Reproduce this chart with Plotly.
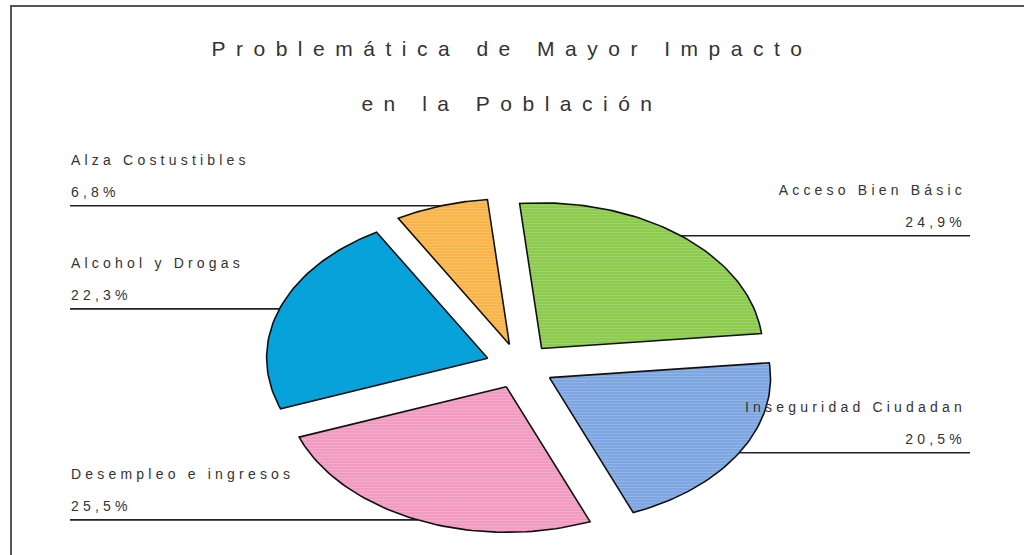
import numpy as np
import plotly.graph_objects as go

# datos
labels = ["Acceso Bien Básic", "Inseguridad Ciudadan", "Desempleo e ingresos",
          "Alcohol y Drogas", "Alza Costustibles"]
values = [24.9, 20.5, 25.5, 22.3, 6.8]
colors = ["#8DCB4F", "#7EA6E0", "#F29BC1", "#08A2DA", "#F9B54A"]
textured = [True, True, True, False, True]

text_color = "#333333"
font_family = "Liberation Sans, Arial, sans-serif"

# geometria del pastel inclinado (en pixeles de pantalla)
cx, cy = 520, 366
vec_a = np.array([220.0, -14.0])    # direccion de las 3 en punto
vec_b = np.array([-22.0, -145.0])   # direccion de las 12 en punto
explode = 0.155
left_x, right_x = 70, 970


def edge(theta):
    return np.sin(theta) * vec_a + np.cos(theta) * vec_b


fig = go.Figure()

total = sum(values)
start = 0.0
slices = []
leaders = []
for lab, val, col, tex in zip(labels, values, colors, textured):
    t0 = start / total * 2 * np.pi
    t1 = (start + val) / total * 2 * np.pi
    tm = (t0 + t1) / 2
    start += val
    tip = np.array([cx, cy]) + explode * edge(tm)
    ts = np.linspace(t0, t1, 60)
    pts = [tip] + [tip + edge(t) for t in ts] + [tip]
    xs = [p[0] for p in pts]
    ys = [p[1] for p in pts]
    slices.append((xs, ys, col, tex))
    mid = tip + edge(tm)
    side = "right" if mid[0] > cx else "left"
    leaders.append((lab, val, mid, side))

# lineas guia (debajo de las porciones)
for lab, val, mid, side in leaders:
    x_end = right_x if side == "right" else left_x
    fig.add_trace(go.Scatter(x=[mid[0], x_end], y=[mid[1], mid[1]], mode="lines",
                             line=dict(color="#222222", width=1.6),
                             hoverinfo="skip", showlegend=False))

# porciones
for xs, ys, col, tex in slices:
    pattern = dict(shape="-", bgcolor=col, fgcolor="white", fgopacity=0.25,
                   size=3, solidity=0.2) if tex else None
    fig.add_trace(go.Scatter(x=xs, y=ys, mode="lines", fill="toself",
                             fillcolor=col, fillpattern=pattern,
                             line=dict(color="#111111", width=1.6),
                             hoverinfo="skip", showlegend=False))

# etiquetas
for lab, val, mid, side in leaders:
    pct = f"{val:.1f}".replace(".", ",") + "%"
    if side == "right":
        tx, pos = right_x - 4, "middle left"
    else:
        tx, pos = left_x + 1, "middle right"
    fig.add_trace(go.Scatter(x=[tx, tx], y=[mid[1] - 44, mid[1] - 12], mode="text",
                             text=[lab, pct], textposition=pos,
                             textfont=dict(size=14, color=text_color, family=font_family),
                             hoverinfo="skip", showlegend=False))

fig.update_layout(
    width=1024,
    height=555,
    margin=dict(l=0, r=0, t=0, b=0),
    plot_bgcolor="white",
    paper_bgcolor="white",
    font=dict(family=font_family, color=text_color),
    title=dict(text="Problemática de Mayor Impacto<br><br>en la Población",
               x=0.5, xanchor="center", yref="container", y=1 - 56 / 555,
               yanchor="top", font=dict(size=21, color=text_color)),
    xaxis=dict(range=[0, 1024], visible=False, fixedrange=True),
    yaxis=dict(range=[555, 0], visible=False, fixedrange=True),
    shapes=[dict(type="rect", xref="x", yref="y", x0=11, y0=6, x1=1040, y1=570,
                 line=dict(color="#555555", width=2), layer="below")],
)

post = """
document.body.style.margin = '0';
var st = document.createElement('style');
st.textContent = '.gtitle{letter-spacing:10.5px} .textpoint text{letter-spacing:4.2px}';
document.head.appendChild(st);
"""

fig.write_html("out.html", post_script=post, config={"displayModeBar": False})
